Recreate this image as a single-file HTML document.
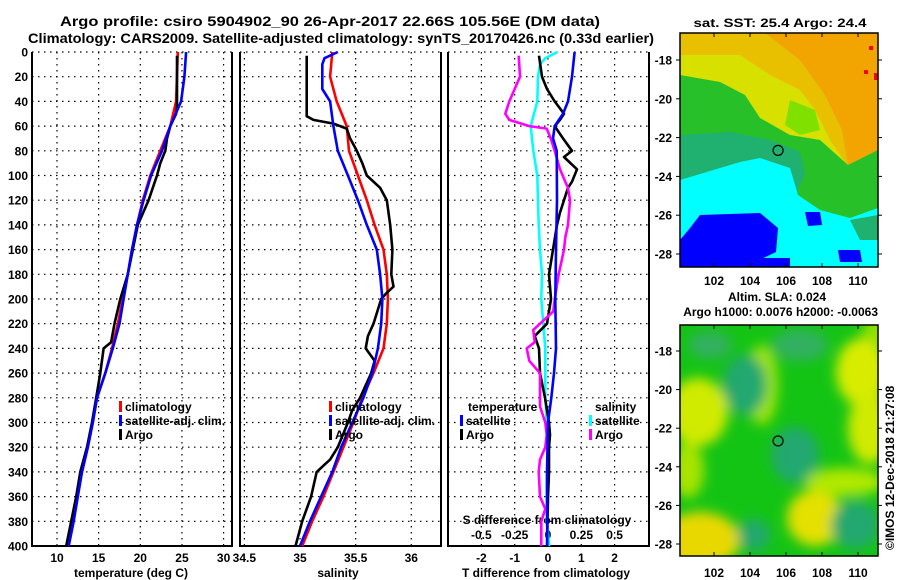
<!DOCTYPE html>
<html><head><meta charset="utf-8"><style>
html,body{margin:0;padding:0;background:#fff;width:900px;height:580px;overflow:hidden}
svg{display:block}
text{font-family:"Liberation Sans",sans-serif;font-weight:bold;fill:#000}
</style></head><body>
<svg id="fig" width="900" height="580" viewBox="0 0 900 580">
<defs><filter id="blur" x="-20%" y="-20%" width="140%" height="140%"><feGaussianBlur stdDeviation="6"/></filter>
<clipPath id="m1clip"><rect x="680" y="33" width="198" height="234"/></clipPath>
<clipPath id="m2clip"><rect x="680" y="325" width="198" height="231"/></clipPath></defs>
<text x="330" y="26" text-anchor="middle" font-size="14" textLength="540" lengthAdjust="spacingAndGlyphs">Argo profile: csiro 5904902_90 26-Apr-2017 22.66S 105.56E (DM data)</text>
<text x="341" y="43" text-anchor="middle" font-size="14" textLength="626" lengthAdjust="spacingAndGlyphs">Climatology: CARS2009. Satellite-adjusted climatology: synTS_20170426.nc (0.33d earlier)</text>
<text x="780" y="27" text-anchor="middle" font-size="12" textLength="173" lengthAdjust="spacingAndGlyphs">sat. SST: 25.4 Argo: 24.4</text>
<g id="panels"></g>
<g id="maps"></g>
</svg>
<script>
// ---------- data ----------
const yTicks=[0,20,40,60,80,100,120,140,160,180,200,220,240,260,280,300,320,340,360,380,400];
const tTicks=[10,15,20,25,30];
const sTicks=[34.5,35,35.5,36];
const sTickLabels=["34.5","35","35.5","36"];
const dTTicks=[-2,-1,0,1,2];
const dSTicks=[-0.5,-0.25,0,0.25,0.5];
const dSTickLabels=["-0.5","-0.25","0","0.25","0.5"];

const climTDepth=[0,40,60,80,100,120,140,160,180,200,220,240,260,280,300,320,340,360,380,400];
const climT=[24.5,24.3,23.6,22.4,21.2,20.3,19.6,19.0,18.5,17.9,17.3,16.6,15.8,14.8,14.3,13.7,13.0,12.4,11.9,11.3];
const satTDepth=[0,20,40,60,80,100,120,140,160,180,200,220,240,260,280,300,320,340,360,380,400];
const satT=[25.5,25.3,24.9,23.6,22.6,21.3,20.4,19.6,19.0,18.5,18.0,17.5,16.7,15.8,14.8,14.3,13.7,13.0,12.5,12.0,11.4];
const argoTDepth=[3,45,50,60,70,80,90,100,110,120,140,160,180,200,220,235,240,260,280,300,320,340,360,380,400];
const argoT=[24.4,24.4,24.3,23.6,23.2,23.0,22.4,22.0,21.5,21.0,19.7,19.1,18.5,17.6,16.9,16.5,15.6,15.2,14.7,14.2,13.6,12.8,12.3,11.7,11.1];

const climSDepth=[0,20,40,60,80,100,120,140,160,180,200,220,240,260,280,300,320,340,360,380,400];
const climS=[35.29,35.27,35.33,35.42,35.44,35.52,35.60,35.67,35.75,35.78,35.79,35.78,35.75,35.66,35.56,35.48,35.39,35.30,35.21,35.11,35.02];
const satSDepth=[0,5,10,30,40,60,80,100,120,140,160,180,200,220,240,260,280,300,320,340,360,380,400];
const satS=[35.34,35.22,35.20,35.20,35.27,35.30,35.34,35.43,35.52,35.60,35.69,35.72,35.74,35.73,35.70,35.65,35.57,35.47,35.37,35.29,35.19,35.09,35.00];
const argoSDepth=[3,52,55,58,62,70,80,90,100,110,120,140,160,180,190,195,200,220,230,240,250,260,280,290,300,320,330,335,340,360,380,400];
const argoS=[35.06,35.06,35.12,35.30,35.42,35.45,35.51,35.56,35.60,35.72,35.78,35.81,35.83,35.82,35.84,35.78,35.73,35.66,35.61,35.59,35.67,35.64,35.54,35.47,35.43,35.34,35.27,35.21,35.15,35.10,35.02,34.96];

const satDTDepth=[0,20,40,50,60,70,80,120,160,200,240,260,280,300,340,400];
const satDT=[0.8,0.72,0.6,0.45,0.2,0.15,0.26,0.27,0.24,0.22,0.24,0.18,0.1,0.0,-0.03,-0.02];
const argoDTDepth=[3,20,30,40,50,55,60,70,80,85,95,105,110,120,130,140,160,180,200,220,230,240,260,280,300,310,320,340,360,400];
const argoDT=[-0.27,-0.18,-0.03,0.2,0.48,0.36,0.2,0.45,0.72,0.48,0.87,0.72,0.6,0.48,0.36,0.27,0.15,0.03,0.09,-0.03,-0.4,-0.27,-0.24,-0.09,0.03,0.06,0.03,0.03,0.0,-0.03];
const satDSDepth=[0,5,10,20,40,60,80,100,120,140,160,180,200,220,240,280,300,320,350,380,400];
const satDS=[0.07,-0.02,-0.06,-0.075,-0.08,-0.13,-0.11,-0.08,-0.075,-0.07,-0.06,-0.045,-0.05,-0.035,-0.02,-0.02,-0.01,0.0,-0.01,-0.01,0.01];
const argoDSDepth=[3,20,30,40,50,55,60,62,70,80,95,105,110,120,140,150,160,180,200,210,215,220,225,235,240,250,260,287,300,310,320,330,340,360,370,380,400];
const argoDS=[-0.22,-0.21,-0.25,-0.29,-0.32,-0.29,-0.14,-0.01,0.02,0.05,0.09,0.13,0.15,0.165,0.15,0.13,0.12,0.08,0.05,0.04,-0.01,-0.06,-0.11,-0.1,-0.16,-0.14,-0.06,-0.06,-0.02,-0.01,-0.02,-0.06,-0.07,-0.06,-0.02,-0.05,-0.05];

// ---------- axes ----------
const Y0=52,Y1=546;
const y=d=>Y0+d*(Y1-Y0)/400;
const xT=t=>57+(t-10)*8.33;
const xS=s=>300+(s-35)*111.3;
const xdT=v=>548+v*33.3;
const xdS=v=>548+v*133.3;
const NS='http://www.w3.org/2000/svg';
const P=document.getElementById('panels');
function mk(tag,attrs,parent){const e=document.createElementNS(NS,tag);for(const k in attrs)e.setAttribute(k,attrs[k]);(parent||P).appendChild(e);return e;}
function txt(x,yy,s,size,anchor,parent){const e=mk('text',{x:x,y:yy,'font-size':size,'text-anchor':anchor||'middle'},parent);e.textContent=s;return e;}

const panels=[{x0:32,x1:232,name:'temperature-panel'},{x0:240,x1:441,name:'salinity-panel'},{x0:448,x1:649,name:'difference-panel'}];
const vgrid=[tTicks.map(xT),sTicks.map(xS),dTTicks.map(xdT)];
panels.forEach((p,i)=>{
  const g=mk('g',{});
  
  
  yTicks.forEach(d=>{const l=mk('line',{x1:p.x0,x2:p.x1,y1:y(d),y2:y(d),stroke:'#000','stroke-width':1.2,'stroke-dasharray':'1.5 4.5'},g);
    
    });
  vgrid[i].forEach(x=>{const l=mk('line',{x1:x,x2:x,y1:Y0,y2:Y1,stroke:'#000','stroke-width':1.2,'stroke-dasharray':'1.5 4.5'},g);
    
    });
  const b=mk('path',{d:`M${p.x0},${Y0}V${Y1}H${p.x1}V${Y0}`,fill:'none',stroke:'#000','stroke-width':2},g);
  
  
});
yTicks.forEach(d=>{const t=txt(28,y(d)+4.5,String(d),12,'end');
  
  });
tTicks.forEach(v=>{const t=txt(xT(v),562,String(v),12);
  
  });
sTicks.forEach((v,i)=>{const t=txt(xS(v),562,sTickLabels[i],12);
  
  });
dTTicks.forEach(v=>{const t=txt(xdT(v),562,String(v),12);
  
  });
dSTicks.forEach((v,i)=>{const t=txt(xdS(v),539,dSTickLabels[i],12);
  
  });
let t;
t=txt(131,577,'temperature (deg C)',12);


t=txt(338,577,'salinity',12);


t=txt(546,577,'T difference from climatology',12);


t=txt(547,524,'S difference from climatology',12);



function series(depths,vals,fx,color,name){
  const pts=depths.map((d,i)=>fx(vals[i]).toFixed(1)+','+y(d).toFixed(1)).join(' ');
  const l=mk('polyline',{points:pts,fill:'none',stroke:color,'stroke-width':2.6,'stroke-linejoin':'round'});
  
  
}
series(climTDepth,climT,xT,'#ff0000','climatology-temperature-line');
series(argoTDepth,argoT,xT,'#000','argo-temperature-line');
series(satTDepth,satT,xT,'#0000ff','satellite-temperature-line');
series(climSDepth,climS,xS,'#ff0000','climatology-salinity-line');
series(argoSDepth,argoS,xS,'#000','argo-salinity-line');
series(satSDepth,satS,xS,'#0000ff','satellite-salinity-line');
series(satDSDepth,satDS,xdS,'#00ffff','satellite-s-difference-line');
series(argoDTDepth,argoDT,xdT,'#000','argo-t-difference-line');
series(argoDSDepth,argoDS,xdS,'#ff00ff','argo-s-difference-line');
series(satDTDepth,satDT,xdT,'#0000ff','satellite-t-difference-line');

function legend(x,yy,color,label,name){
  const r=mk('rect',{x:x,y:yy-10,width:3,height:11,fill:color});
  
  
  const tt=txt(x+6,yy,label,12,'start');
  
  
}
legend(119,411,'#ff0000','climatology','legend-climatology');
legend(119,425,'#0000ff','satellite-adj. clim.','legend-satellite-adj');
legend(119,439,'#000','Argo','legend-argo');
legend(329,411,'#ff0000','climatology','legend-climatology-s');
legend(329,425,'#0000ff','satellite-adj. clim.','legend-satellite-adj-s');
legend(329,439,'#000','Argo','legend-argo-s');
t=txt(468,411,'temperature',12,'start');


t=txt(595,411,'salinity',12,'start');


legend(460,425,'#0000ff','satellite','legend-t-satellite');
legend(460,439,'#000','Argo','legend-t-argo');
legend(589,425,'#00ffff','satellite','legend-s-satellite');
legend(589,439,'#ff00ff','Argo','legend-s-argo');

// ---------- maps ----------
const M=document.getElementById('maps');
const lonTicks=[102,104,106,108,110];
const lat1Ticks=[-18,-20,-22,-24,-26,-28];
const lat2Ticks=[-18,-20,-22,-24,-26,-28];
const argoLon=105.56, argoLat=-22.66;
const lonX=v=>714+(v-102)*18;
const lat1Y=v=>60+(-18-v)*19.4;
const lat2Y=v=>351+(-18-v)*19.3;
function mapAxes(top,bot,latY,lats,labY,name){
  const g=mk('g',{},M);
  
  
  mk('rect',{x:680,y:top,width:198,height:bot-top,fill:'none',stroke:'#000','stroke-width':1.5},g);
  lonTicks.forEach(v=>{mk('line',{x1:lonX(v),x2:lonX(v),y1:bot,y2:bot-4,stroke:'#000'},g);mk('line',{x1:lonX(v),x2:lonX(v),y1:top,y2:top+4,stroke:'#000'},g);
    const tt=txt(lonX(v),labY,String(v),12,'middle',g);
    
    });
  lats.forEach(v=>{mk('line',{x1:676,x2:680,y1:latY(v),y2:latY(v),stroke:'#000'},g);mk('line',{x1:878,x2:882,y1:latY(v),y2:latY(v),stroke:'#000'},g);
    const tt=txt(672,latY(v)+4.5,String(v),12,'end',g);
    
    });
  const c=mk('circle',{cx:lonX(argoLon),cy:latY(argoLat),r:5,fill:'none',stroke:'#000','stroke-width':1.2},g);
  
  
}
const m1=mk('g',{'clip-path':'url(#m1clip)'},M);


const sstRegions=[
 ['#f2a400','M680,33H878V267H680Z'],
 ['#e8c000','M680,33H765L800,60L825,95L842,130L848,165L800,175L700,150L680,140Z'],
 ['#d8e000','M680,55L740,55L770,75L800,90L815,110L830,140L845,162L790,150L740,120L700,90L680,80Z'],
 ['#28c028','M680,75L720,82L745,95L760,118L790,135L820,140L848,165L878,150V267H680Z'],
 ['#80e000','M790,100L815,110L820,130L800,135L785,125Z'],
 ['#20b070','M680,135L730,132L770,140L800,152L805,175L790,205L720,205L680,210Z'],
 ['#00ffff','M680,180L740,162L760,158L790,168L798,195L820,210L850,218L878,208V267H680Z'],
 ['#20b070','M850,220L878,215V240L860,240Z'],
 ['#0000ff','M690,228L700,215L760,213L778,228L776,252L755,262L680,267V240Z'],
 ['#0000ff','M680,258H790V267H680Z'],
 ['#0000ff','M805,212L820,212L822,225L808,226Z'],
 ['#0000ff','M838,250L860,250L862,262L840,262Z'],
 ['#ff0000','M874,73H880V80H874Z'],
 ['#ff0000','M869,46H873V50H869Z'],
 ['#ff0000','M864,70H868V74H864Z']];
sstRegions.forEach(r=>{const p=mk('path',{d:r[1],fill:r[0]},m1);
  
  });
mapAxes(33,267,lat1Y,lat1Ticks,285,'sst-map');
t=txt(728,301,'Altim. SLA: 0.024',12,'start');


t=txt(878,316,'Argo h1000: 0.0076 h2000: -0.0063',12,'end');


const m2=mk('g',{'clip-path':'url(#m2clip)'},M);


mk('rect',{x:680,y:325,width:198,height:231,fill:'#14c414'},m2);
const bl=mk('g',{filter:'url(#blur)'},m2);
const blobs=[
 ['#d0ea00',698,412,30,34],['#d8ec00',862,372,26,34],['#d0ea00',870,428,22,36],['#a0e400',762,385,16,40],
 ['#e8d800',700,540,40,28],['#e4e000',815,518,28,28],['#b0e800',845,482,40,14],['#a8e400',688,470,16,28],
 ['#20a870',745,385,22,30],['#30b060',800,345,28,16],['#20a870',795,455,24,28],['#20a870',855,525,24,24],
 ['#20a870',754,535,16,16],['#30b060',710,345,22,14],['#90e000',880,330,18,14]];
blobs.forEach(b=>{const e=mk('ellipse',{cx:b[1],cy:b[2],rx:b[3],ry:b[4],fill:b[0]},bl);
  
  });
mapAxes(325,556,lat2Y,lat2Ticks,577,'sla-map');
t=txt(0,0,'©IMOS 12-Dec-2018 21:27:08',12,'start');
t.setAttribute('transform','translate(894,550) rotate(-90)');
t.setAttribute('font-weight','normal');


</script>
</body></html>
